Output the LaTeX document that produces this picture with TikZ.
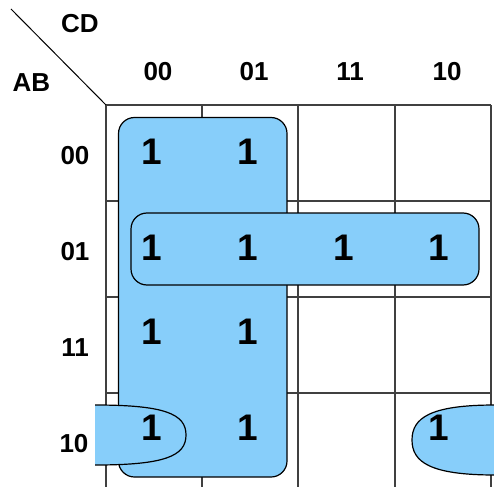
\documentclass[tikz,border=0pt]{standalone}
\usepackage{fontspec}
\setmainfont{Liberation Sans}
\definecolor{kmapblue}{RGB}{135,206,250}
\definecolor{gridgray}{RGB}{64,64,64}
\tikzset{
  group/.style={fill=kmapblue, draw=black, line width=1.2pt},
  gridline/.style={gridgray, line width=1.3pt},
  one/.style={font=\fontsize{37}{37}\selectfont\bfseries, inner sep=0pt},
  lbl/.style={font=\fontsize{26}{26}\selectfont\bfseries, inner sep=0pt},
}
\begin{document}
\begin{tikzpicture}[x=1pt,y=-1pt]
    \useasboundingbox (0,0) rectangle (494,486);
    \clip (0,0) rectangle (494,486);

    % Grid
    \foreach \x in {106,202,298,395,491}
        \draw[gridline] (\x,105) -- (\x,490);
    \foreach \y in {105,201,297,393}
        \draw[gridline] (106,\y) -- (491,\y);
    \draw[line width=1pt] (11,9) -- (106,105);

    % Groups
    \draw[group, rounded corners=16pt] (118.5,117.5) rectangle (287,477);
    \draw[group, rounded corners=16pt] (131,213) rectangle (479,285);
    \fill[kmapblue] (95,405) .. controls (165,405) and (186,414) .. (186,435)
        .. controls (186,456) and (165,465) .. (95,465) -- cycle;
    \draw[line width=1.2pt] (95,405) .. controls (165,405) and (186,414) .. (186,435)
        .. controls (186,456) and (165,465) .. (95,465);
    \fill[kmapblue] (495,405) .. controls (430,405) and (412,418) .. (412,440)
        .. controls (412,462) and (430,475) .. (495,475) -- cycle;
    \draw[line width=1.2pt] (495,405) .. controls (430,405) and (412,418) .. (412,440)
        .. controls (412,462) and (430,475) .. (495,475);

    % Labels
    \node[lbl] (cd) at (80,24) {CD};
    \node[lbl] (ab) at (31.5,82.5) {AB};
    \node[lbl] (c00) at (158,72) {00};
    \node[lbl] (c01) at (254,72) {01};
    \node[lbl] (c11) at (350,72) {11};
    \node[lbl] (c10) at (447,72) {10};
    \node[lbl] (r00) at (75,155.5) {00};
    \node[lbl] (r01) at (75,251.5) {01};
    \node[lbl] (r11) at (75,347.5) {11};
    \node[lbl] (r10) at (74,444) {10};

    % Ones
    \node[one] (m0) at (151.5,151.7) {1};
    \node[one] (m1) at (248,151.7) {1};
    \node[one] (m4) at (151.5,247.5) {1};
    \node[one] (m5) at (248,247.5) {1};
    \node[one] (m7) at (343.5,247.5) {1};
    \node[one] (m6) at (439,247.5) {1};
    \node[one] (m12) at (151.5,331.5) {1};
    \node[one] (m13) at (248,331.5) {1};
    \node[one] (m8) at (151.5,427.5) {1};
    \node[one] (m9) at (248,427.5) {1};
    \node[one] (m10) at (439,428) {1};
\end{tikzpicture}
\end{document}
